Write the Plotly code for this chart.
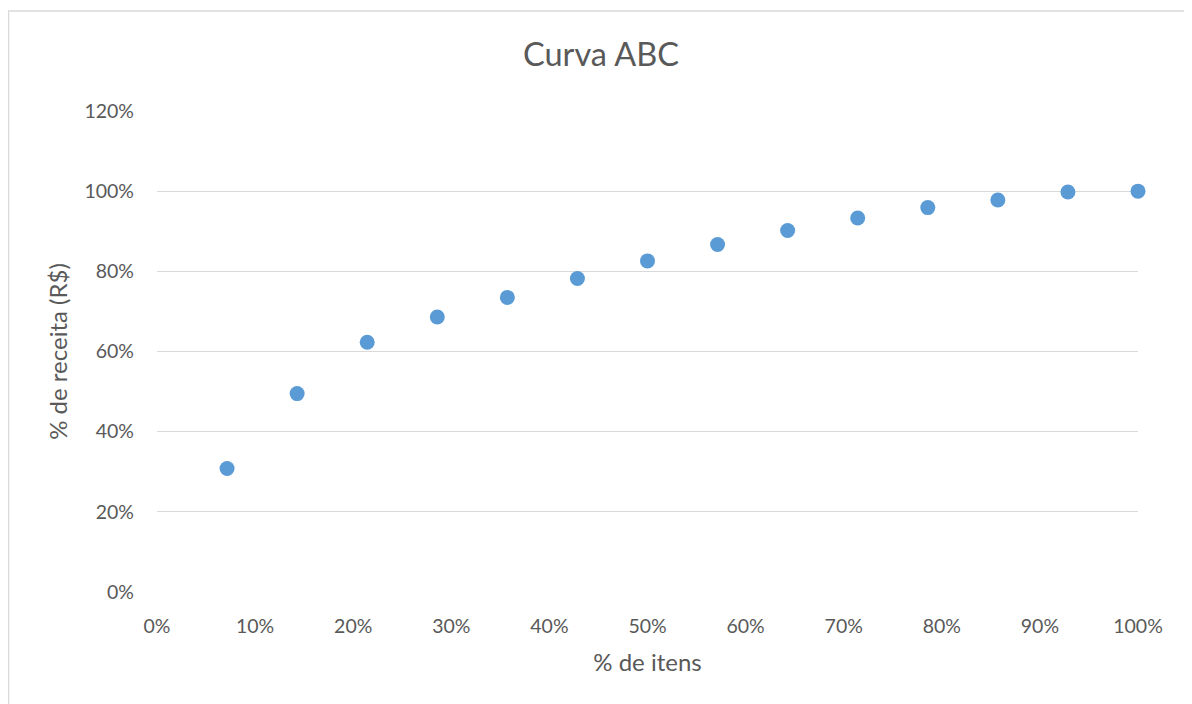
import plotly.graph_objects as go

# Data
pct_itens = [1/14, 2/14, 3/14, 4/14, 5/14, 6/14, 7/14, 8/14, 9/14, 10/14, 11/14, 12/14, 13/14, 14/14]
pct_receita = [0.308, 0.495, 0.623, 0.686, 0.735, 0.782, 0.826, 0.867, 0.902, 0.933, 0.959, 0.978, 0.998, 1.0]

title_text = "Curva ABC"
x_title = "% de itens"
y_title = "% de receita (R$)"

W, H = 1192, 704
OFF = 8  # page body margin
L, R, T, B = 157 - OFF, 54 + OFF, 111 - OFF, 112 + OFF
FONT = "Lato, Open Sans, sans-serif"
GRAY = "#595959"

fig = go.Figure()
fig.add_trace(go.Scatter(
    x=pct_itens, y=pct_receita, mode="markers",
    marker=dict(size=15, color="#5b9bd5"),
    cliponaxis=False,
    showlegend=False,
))

pw = W - L - R
ph = H - T - B
fig.add_shape(type="rect", xref="paper", yref="paper",
              x0=(0.5 - L) / pw, x1=1.3, y0=-0.6, y1=(H - B - 3) / ph,
              line=dict(color="#d9d9d9", width=1.5), fillcolor="rgba(0,0,0,0)", layer="below")

fig.update_layout(
    width=W, height=H,
    margin=dict(l=L, r=R, t=T, b=B),
    paper_bgcolor="white", plot_bgcolor="white",
    font=dict(family=FONT, color=GRAY, size=16),
    title=dict(text=title_text, x=(601 - OFF) / W, xanchor="center", xref="container",
               y=1 - (55 - OFF) / H, yref="container", yanchor="middle",
               font=dict(size=32.5, color=GRAY, family=FONT)),
    xaxis=dict(range=[0, 1], dtick=0.1, tick0=0, tickformat=".0%",
               showgrid=False, zeroline=False, showline=False,
               ticks="", ticklabelstandoff=20,
               tickfont=dict(size=19.5, color=GRAY),
               title=dict(text=x_title, font=dict(size=24, color=GRAY), standoff=18)),
    yaxis=dict(range=[0, 1.2], dtick=0.2, tick0=0, tickformat=".0%",
               showgrid=True, gridcolor="#d9d9d9", gridwidth=1.3,
               zeroline=False, showline=False, ticks="", ticklabelstandoff=22,
               tickfont=dict(size=19.5, color=GRAY),
               title=dict(text=y_title, font=dict(size=24, color=GRAY), standoff=10)),
)

fig.write_html("out.html")
